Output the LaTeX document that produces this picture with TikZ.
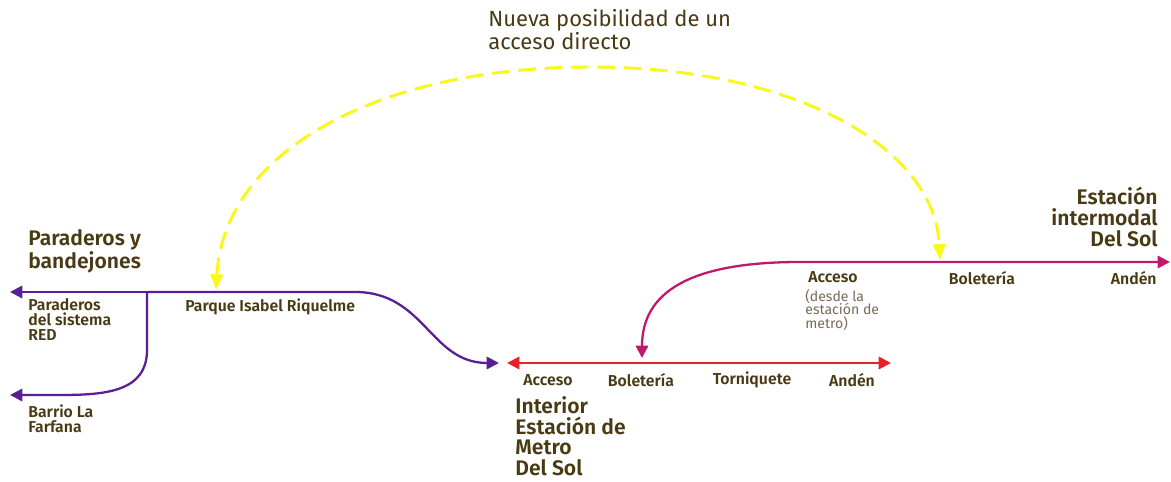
\documentclass[tikz,border=0pt]{standalone}
\usepackage{fontspec}
\setmainfont{Fira Sans}[BoldFont={Fira Sans SemiBold}]
\usetikzlibrary{arrows.meta,positioning}
\definecolor{txtbrown}{HTML}{4A3A14}
\definecolor{subbrown}{HTML}{7A6A58}
\definecolor{lnpurple}{HTML}{5A1E96}
\definecolor{lnred}{HTML}{E8202A}
\definecolor{lnmagenta}{HTML}{C0186C}
\definecolor{lnyellow}{HTML}{F8F81A}
\begin{document}
\begin{tikzpicture}[x=0.02cm,y=-0.02cm,
  title/.style={font=\fontsize{12}{11.8}\selectfont\bfseries, text=txtbrown, align=left, inner sep=0pt},
  lbl/.style={font=\fontsize{9}{8.6}\selectfont\bfseries, text=txtbrown, align=left, inner sep=0pt},
  sublbl/.style={font=\fontsize{8}{7.7}\selectfont, text=subbrown, align=left, inner sep=0pt},
  route/.style={line width=1.3pt, arrows={-Triangle[length=7pt,width=7pt]}}]
  \useasboundingbox (0,0) rectangle (1171,482);

  \coordinate (split)  at (147,292) ;
  \coordinate (parL)   at (10,292) ;
  \coordinate (farL)   at (10,395) ;
  \coordinate (bendP)  at (355,292) ;
  \coordinate (metIn)  at (499,363) ;
  \coordinate (metL)   at (507,363) ;
  \coordinate (metR)   at (891,363) ;
  \coordinate (metBol) at (642,358) ;
  \coordinate (intL)   at (800,262) ;
  \coordinate (intR)   at (1170,262) ;
  \coordinate (yParq)  at (216,290) ;
  \coordinate (yInt)   at (940,260) ;
  \coordinate (yTop)   at (590,67) ;

  \draw[route, lnpurple] (split) -- (parL) ;
  \draw[route, lnpurple] (split) -- (147,350) .. controls (147,392) and (105,395) .. (60,395) -- (farL) ;
  \draw[route, lnpurple] (split) -- (bendP) .. controls (425,292) and (430,363) .. (metIn) ;
  \draw[line width=1.3pt, lnred, {Triangle[length=7pt,width=7pt]}-{Triangle[length=7pt,width=7pt]}] (metL) -- (metR) ;
  \draw[line width=1.3pt, lnmagenta, {Triangle[length=7pt,width=7pt]}-{Triangle[length=7pt,width=7pt]}]
    (metBol) .. controls (642,292) and (690,262) .. (intL) -- (intR) ;
  \draw[line width=1.7pt, lnyellow, dash pattern=on 10pt off 5pt, {Triangle[length=9pt,width=7pt]}-{Triangle[length=9pt,width=7pt]}]
    (yParq) .. controls (224,150) and (380,67) .. (yTop) .. controls (800,67) and (935,150) .. (yInt) ;

  \node[title, font=\fontsize{12.5}{13.2}\selectfont, anchor=north west] (nueva) at (488,9) {Nueva posibilidad de un\\acceso directo} ;
  \node[title, anchor=north west] (parad) at (28,229) {Paraderos y\\bandejones} ;
  \node[title, align=right, anchor=north east] (inter) at (1158,187) {Estación\\intermodal\\Del Sol} ;
  \node[title, anchor=north west] (metro) at (515,396) {Interior\\Estación de\\Metro\\Del Sol} ;

  \node[lbl, anchor=north west] (red)  at (28,298) {Paraderos\\del sistema\\RED} ;
  \node[lbl, anchor=north west] (farf) at (28,404) {Barrio La\\Farfana} ;
  \node[lbl, anchor=north west] (parq) at (185,298) {Parque Isabel Riquelme} ;

  \node[lbl] (mAcc) at (548,380) {Acceso} ;
  \node[lbl] (mBol) at (641,380) {Boletería} ;
  \node[lbl] (mTor) at (752,380) {Torniquete} ;
  \node[lbl] (mAnd) at (852,380) {Andén} ;

  \node[lbl, anchor=north west] (iAcc) at (808,271) {Acceso} ;
  \node[sublbl, anchor=north west] (iDes) at (805,289) {(desde la\\estación de\\metro)} ;
  \node[lbl, anchor=north] (iBol) at (982,271) {Boletería} ;
  \node[lbl, anchor=north east] (iAnd) at (1157,271) {Andén} ;
\end{tikzpicture}
\end{document}
